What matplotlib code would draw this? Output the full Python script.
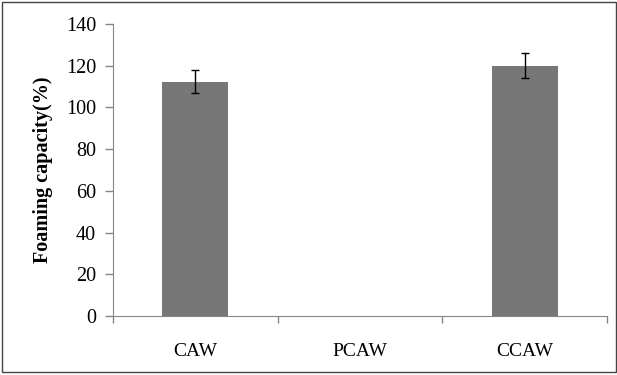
import numpy as np
import matplotlib.pyplot as plt
from matplotlib.patches import Rectangle

categories = ['CAW', 'PCAW', 'CCAW']
foaming = [112.3, 0, 120.0]
errors = [5.5, 0, 6.0]

plt.rcParams['font.family'] = 'Liberation Serif'

fig = plt.figure(figsize=(6.17, 3.75), dpi=100)
ax = fig.add_axes([0.183, 0.157, 0.801, 0.779])

x = np.arange(len(categories))
ax.bar(x, foaming, width=0.4, color='#777777')
# error bars only where there is a bar
has = [i for i, v in enumerate(foaming) if v > 0]
ax.errorbar([x[i] for i in has], [foaming[i] for i in has],
            yerr=[errors[i] for i in has], fmt='none', ecolor='black',
            elinewidth=1, capsize=3, capthick=1)

ax.set_xlim(-0.5, 2.5)
ax.set_ylim(0, 140)
ax.set_yticks(np.arange(0, 141, 20))
ax.set_xticks(x)
ax.set_xticklabels(categories, fontsize=14)
ax.set_xticks([-0.5, 0.5, 1.5, 2.5], minor=True)
ax.tick_params(axis='x', which='major', length=0, pad=19)
ax.tick_params(axis='x', which='minor', length=5, color='#868686', width=1)
ax.tick_params(axis='y', length=6, color='#868686', width=1, labelsize=14.5, pad=6)

for s in ['top', 'right']:
    ax.spines[s].set_visible(False)
for s in ['left', 'bottom']:
    ax.spines[s].set_color('#868686')

ax.set_ylabel('Foaming capacity(%)', fontsize=14.5, fontweight='bold', labelpad=9)

fig.patches.append(Rectangle((0.004, 0.008), 0.994, 0.986, transform=fig.transFigure,
                             fill=False, edgecolor='#444444', linewidth=1))

fig.savefig('out.png', dpi=100)
